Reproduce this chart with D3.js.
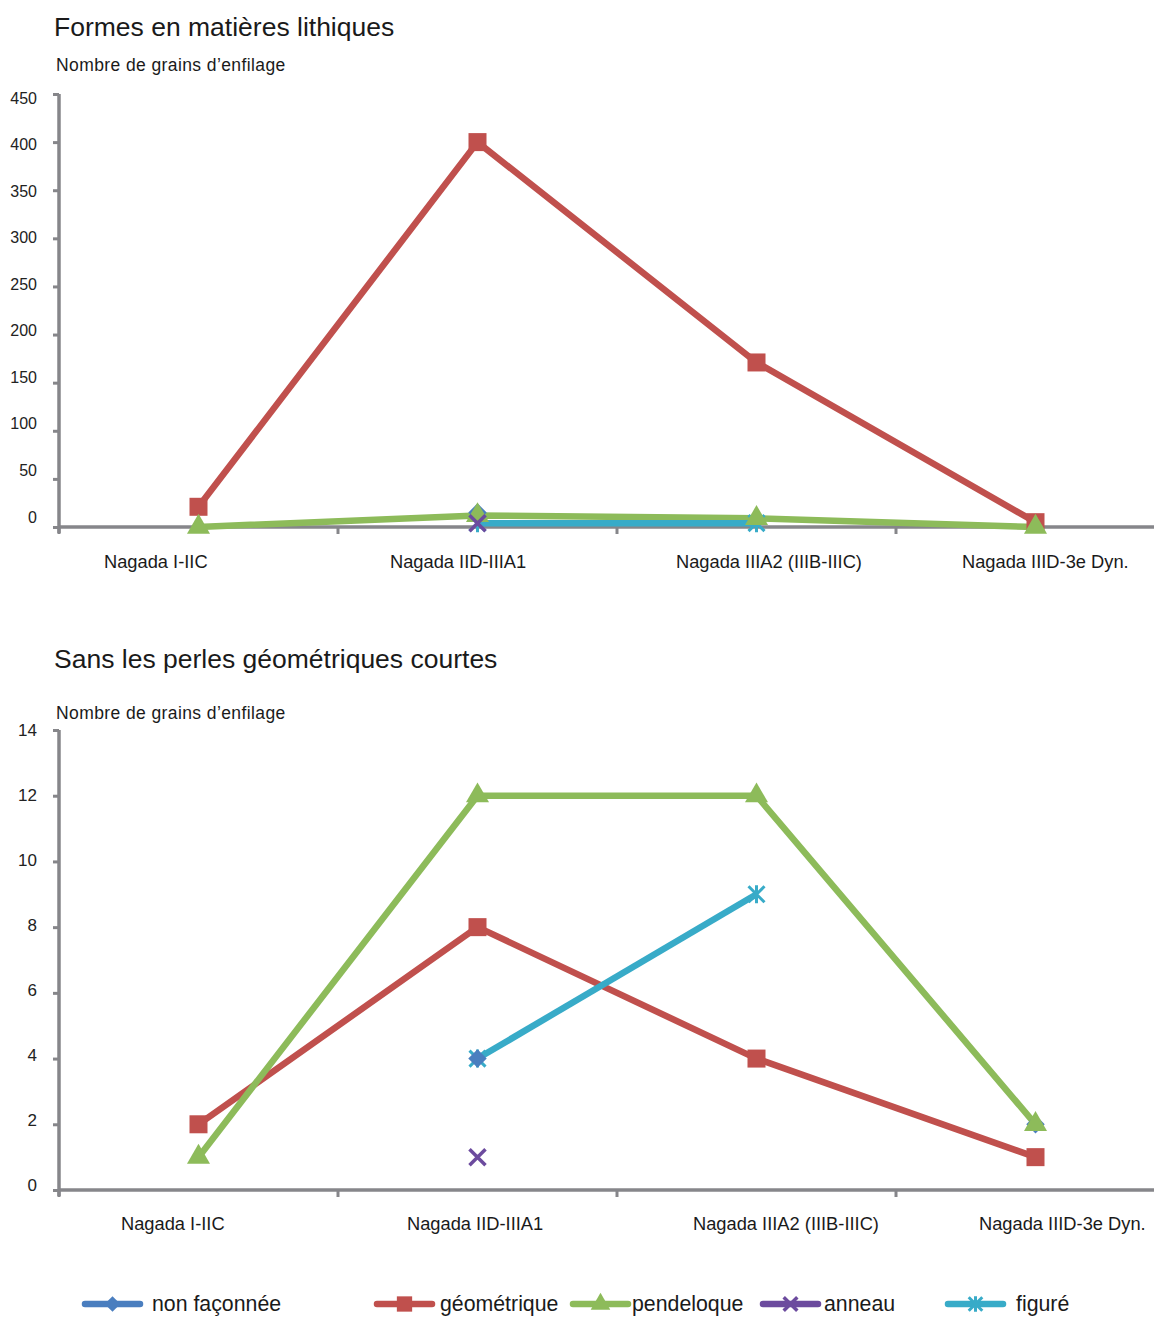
<!DOCTYPE html>
<html><head><meta charset="utf-8">
<script src="https://cdn.jsdelivr.net/npm/d3@7"></script>
<style>body{margin:0;background:#fff}svg{display:block;font-family:"Liberation Sans",Arial,sans-serif}</style>
</head><body>
<script>
const categories = ["Nagada I-IIC","Nagada IID-IIIA1","Nagada IIIA2 (IIIB-IIIC)","Nagada IIID-3e Dyn."];
const seriesNames = ["non façonnée","géométrique","pendeloque","anneau","figuré"];
const seriesColors = ["#4a7ebf","#c0504d","#8dbb5a","#6c4b9e","#38abc8"];
const seriesMarkers = ["diamond","square","triangle","x","star"];
// chart 1 : Formes en matières lithiques
const top_nonFaconnee = [null,15,null,null];
const top_geometrique = [21,400,171,5];
const top_pendeloque = [0,12,9,0];
const top_anneau = [null,4,null,null];
const top_figure = [null,4,4,null];
const topTicks = [0,50,100,150,200,250,300,350,400,450];
// chart 2 : Sans les perles géométriques courtes
const bot_nonFaconnee = [null,4,null,2];
const bot_geometrique = [2,8,4,1];
const bot_pendeloque = [1,12,12,2];
const bot_anneau = [null,1,null,null];
const bot_figure = [null,4,9,null];
const botTicks = [0,2,4,6,8,10,12,14];

const W=1154,H=1318;
const svg=d3.select("body").append("svg").attr("width",W).attr("height",H);
const AX="#86868a";

function marker(g,type,x,y,color,s){
  s=s||1;
  if(type==="diamond"){
    g.append("path").attr("d",d3.symbol(d3.symbolSquare,170*s*s)())
     .attr("transform",`translate(${x},${y}) rotate(45)`).attr("fill",color);
  } else if(type==="square"){
    g.append("rect").attr("x",x-9*s).attr("y",y-9*s).attr("width",18*s).attr("height",18*s).attr("fill",color);
  } else if(type==="triangle"){
    g.append("path").attr("d",d3.symbol(d3.symbolTriangle,230*s*s)()).attr("transform",`translate(${x},${y})`).attr("fill",color);
  } else if(type==="x"){
    const r=8*s;
    g.append("path").attr("d",`M${x-r},${y-r}L${x+r},${y+r}M${x-r},${y+r}L${x+r},${y-r}`).attr("stroke",color).attr("stroke-width",3.5).attr("fill","none");
  } else if(type==="star"){
    const r=8*s;
    g.append("path").attr("d",`M${x-r},${y-r}L${x+r},${y+r}M${x-r},${y+r}L${x+r},${y-r}M${x},${y-r-1}L${x},${y+r+1}`).attr("stroke",color).attr("stroke-width",3).attr("fill","none");
  }
}

function chart(cfg){
  const g=svg.append("g");
  const x=d3.scaleBand().domain(categories).range([59,1175]);
  const px=c=>x(c)+x.bandwidth()/2;
  const y=d3.scaleLinear().domain(cfg.domain).range([cfg.y0,cfg.y1]);
  const yl=d3.scaleLinear().domain(cfg.domain).range([cfg.l0,cfg.l1]);
  // title
  g.append("text").attr("x",54).attr("y",cfg.titleY).attr("font-size",26.5).attr("fill","#1a1a1a").text(cfg.title);
  g.append("text").attr("x",56).attr("y",cfg.ytitleY).attr("font-size",17.5).attr("letter-spacing",0.4).attr("fill","#1a1a1a").text("Nombre de grains d’enfilage");
  // y axis
  const ya=g.append("g").attr("transform","translate(59,0)").call(d3.axisLeft(y).tickValues(cfg.ticks).tickSize(6).tickFormat(""));
  ya.select(".domain").remove();
  ya.selectAll("line").attr("stroke",AX).attr("stroke-width",3);
  g.append("line").attr("x1",59).attr("x2",59).attr("y1",cfg.y1).attr("y2",cfg.y0+6).attr("stroke",AX).attr("stroke-width",3.5);
  g.selectAll(".yl").data(cfg.ticks).join("text").attr("x",37).attr("y",d=>yl(d)).attr("dy","0.35em")
    .attr("text-anchor","end").attr("font-size",cfg.tickFont).attr("fill","#222").text(d=>d);
  // x axis
  g.append("line").attr("x1",59).attr("x2",W).attr("y1",cfg.y0).attr("y2",cfg.y0).attr("stroke",AX).attr("stroke-width",3.5);
  g.selectAll(".xt").data(categories).join("line").attr("x1",d=>x(d)).attr("x2",d=>x(d))
    .attr("y1",cfg.y0).attr("y2",cfg.y0+7).attr("stroke",AX).attr("stroke-width",3);
  const xl=d3.scaleLinear().domain([0,3]).range([cfg.xl0,cfg.xl0+3*286]);
  g.selectAll(".xl").data(categories).join("text").attr("x",(d,i)=>xl(i)).attr("y",cfg.xlY)
    .attr("font-size",18.3).attr("fill","#1a1a1a").text(d=>d);
  const series=cfg.series;
  const line=d3.line().defined(d=>d!=null).x((d,i)=>px(categories[i])).y(d=>y(d));
  [1,2,4,0,3].forEach(k=>{
    g.append("path").datum(series[k]).attr("d",line).attr("fill","none").attr("stroke",seriesColors[k])
      .attr("stroke-width",6.5).attr("stroke-linejoin","round");
  });
  [1,4,0,2,3].forEach(k=>{
    series[k].forEach((v,i)=>{ if(v!=null) marker(g,seriesMarkers[k],px(categories[i]),y(v),seriesColors[k]); });
  });
}

chart({title:"Formes en matières lithiques",titleY:36,ytitleY:71,domain:[0,450],y0:527,y1:94,l0:517,l1:98,ticks:topTicks,tickFont:16,
  xl0:104,xlY:568,series:[top_nonFaconnee,top_geometrique,top_pendeloque,top_anneau,top_figure]});
chart({title:"Sans les perles géométriques courtes",titleY:668,ytitleY:719,domain:[0,14],y0:1190,y1:730,l0:1185,l1:730,ticks:botTicks,tickFont:17,
  xl0:121,xlY:1230,series:[bot_nonFaconnee,bot_geometrique,bot_pendeloque,bot_anneau,bot_figure]});

// legend
const legX=[85,377,573,763,948];
const legTX=[152,440,632,824,1016];
const lg=svg.append("g");
seriesNames.forEach((n,k)=>{
  lg.append("line").attr("x1",legX[k]).attr("x2",legX[k]+55).attr("y1",1304).attr("y2",1304)
    .attr("stroke",seriesColors[k]).attr("stroke-width",6.5).attr("stroke-linecap","round");
  marker(lg,seriesMarkers[k],legX[k]+27.5,1304,seriesColors[k],0.85);
  lg.append("text").attr("x",legTX[k]).attr("y",1304).attr("dy","0.35em").attr("font-size",21.3).attr("fill","#1a1a1a").text(n);
});
</script>
</body></html>
